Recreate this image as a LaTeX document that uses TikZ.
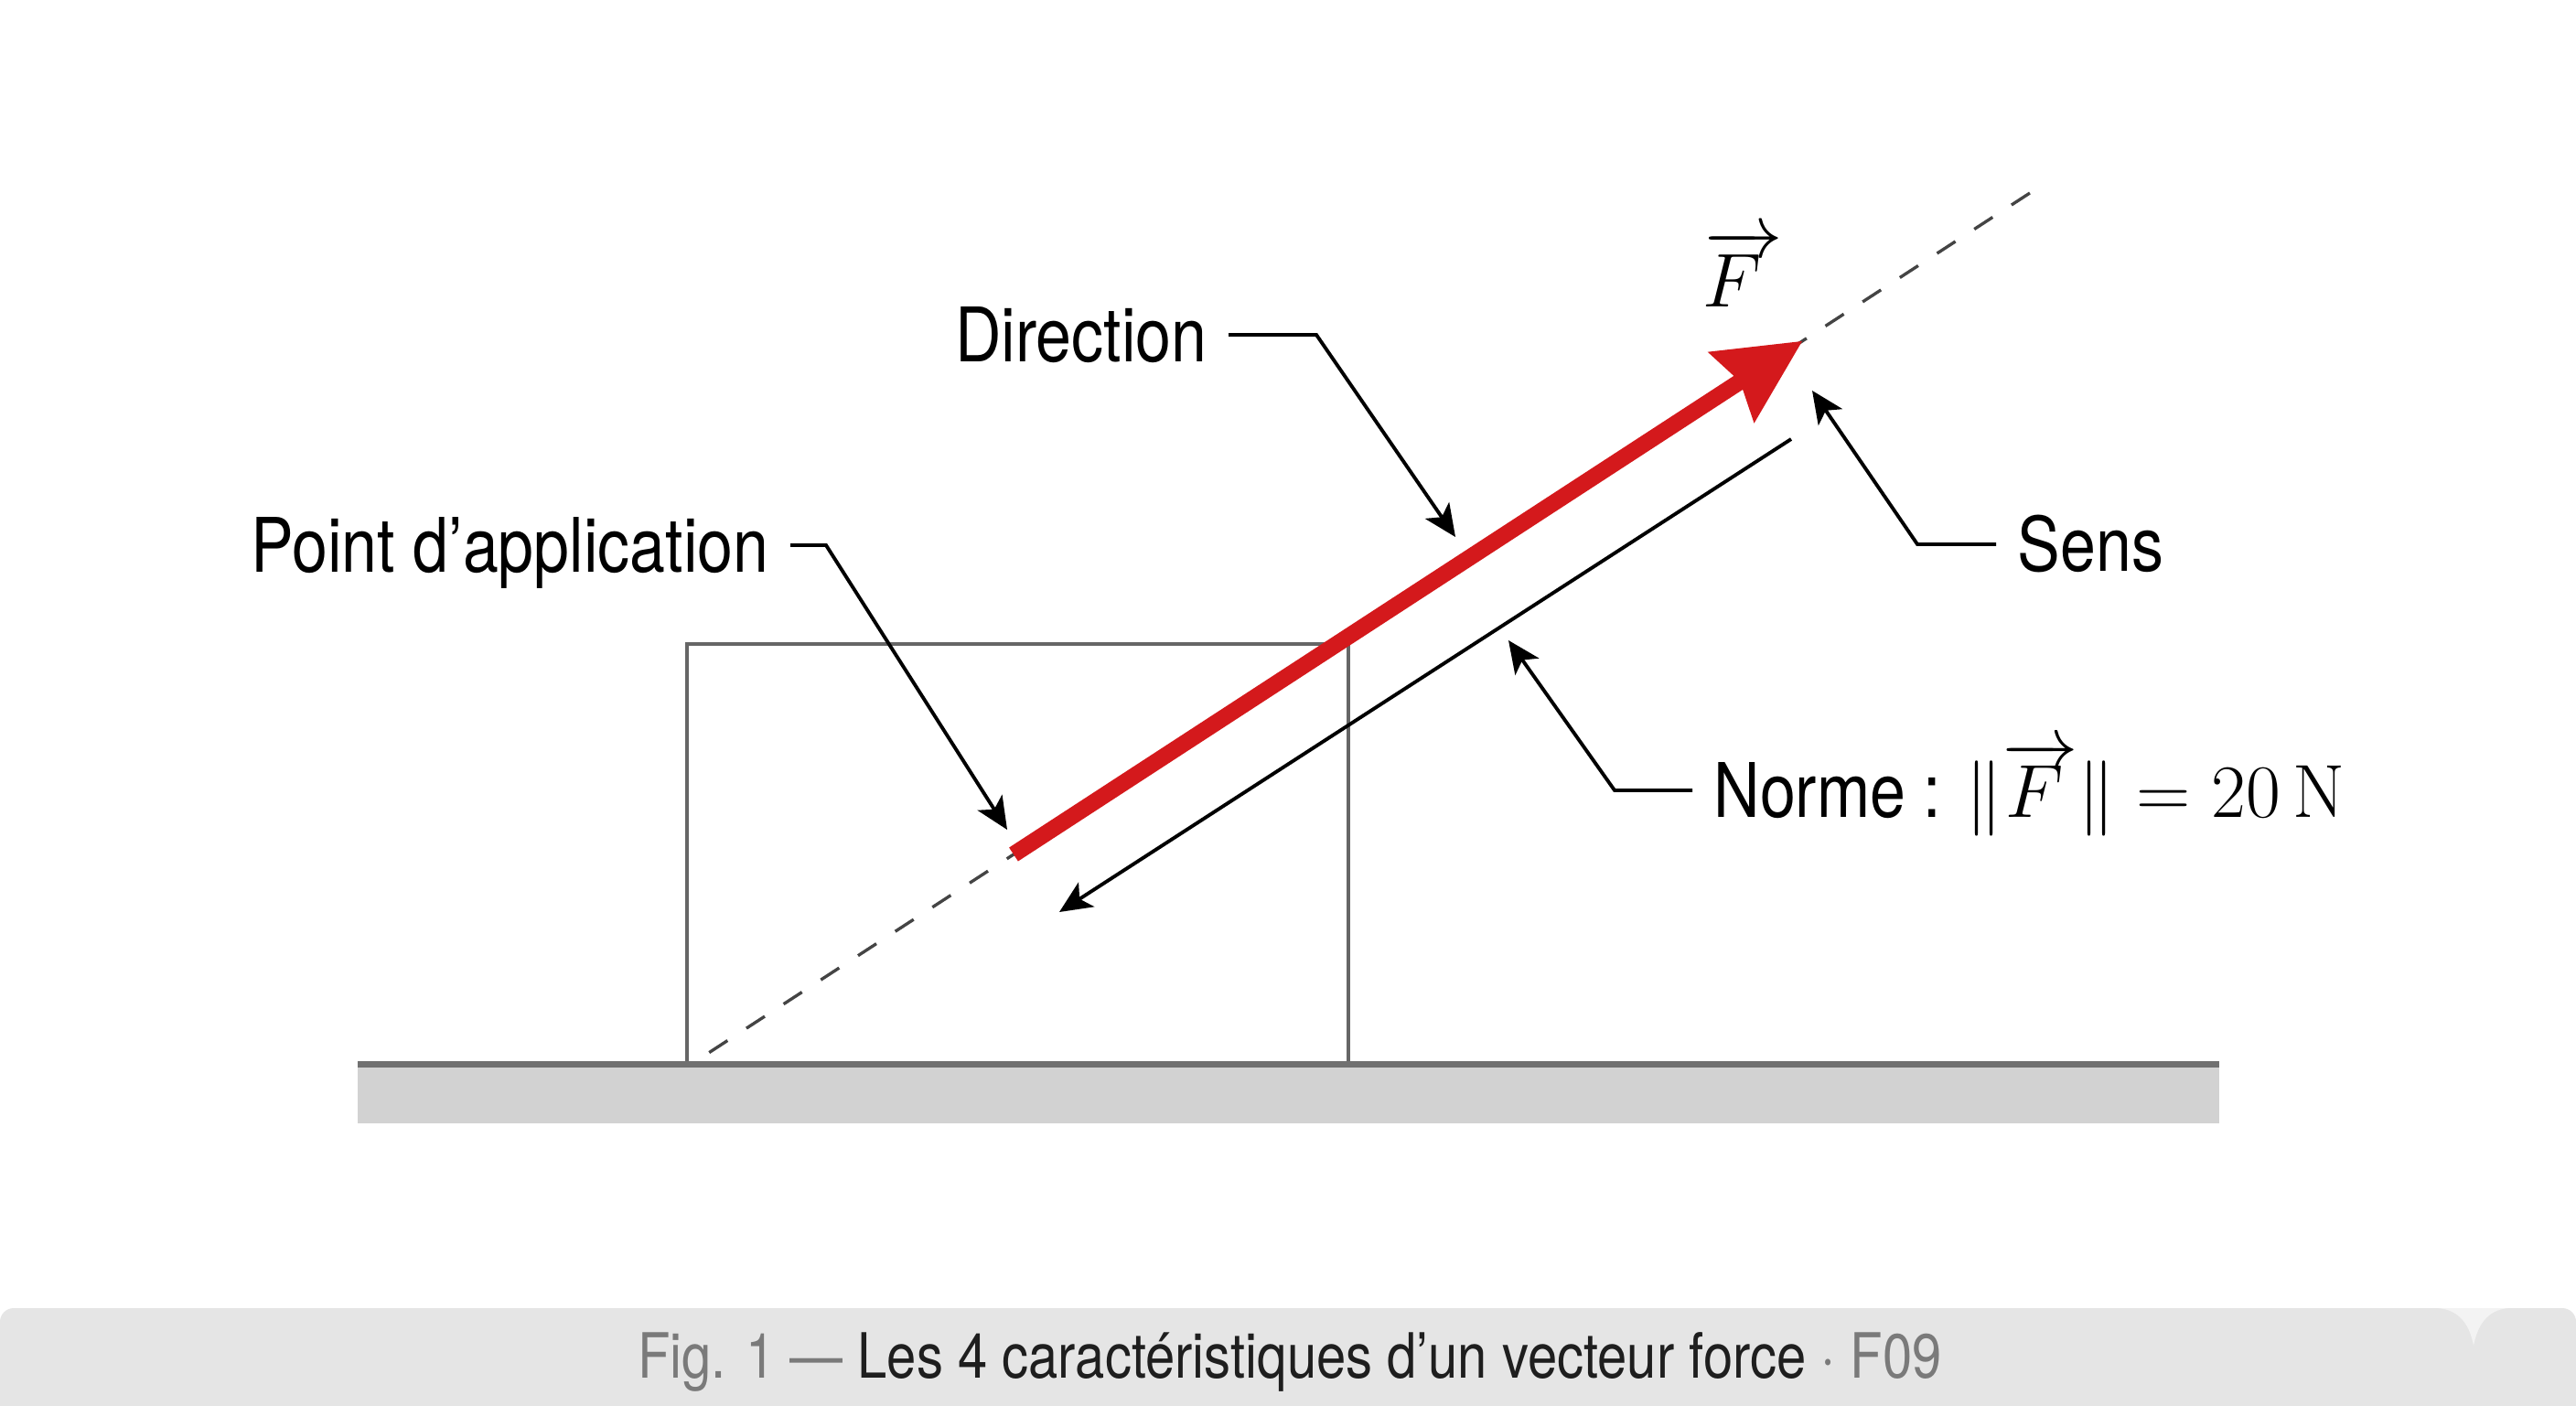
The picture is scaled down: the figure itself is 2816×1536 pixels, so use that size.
\RequirePackage{fix-cm}
\documentclass[tikz,border=0pt]{standalone}
\usepackage[no-math]{fontspec}
\setmainfont[FakeStretch=0.85]{TeX Gyre Heros}
\usetikzlibrary{arrows.meta,calc}
\definecolor{redF}{HTML}{D4191C}
\definecolor{boxgray}{HTML}{666666}
\definecolor{groundline}{HTML}{707070}
\definecolor{groundfill}{HTML}{D2D2D2}
\definecolor{dashgray}{HTML}{444444}
\definecolor{capbg}{HTML}{E5E5E5}
\definecolor{notchc}{HTML}{F3F3F3}
\definecolor{capgray}{HTML}{7A7A7A}
\definecolor{captext}{HTML}{1E1E1E}
\begin{document}
\begin{tikzpicture}[x=0.01cm,y=-0.01cm,
  lbl/.style={font=\fontsize{23.4}{28}\selectfont, inner xsep=6.5pt, inner ysep=0pt, text height=16.8pt, text depth=0pt},
  leader/.style={line width=1.1pt, -{Stealth[length=10pt,width=9pt,inset=2.5pt]}},
  boxline/.style={draw=boxgray, line width=1.4pt},
  dashline/.style={draw=dashgray, line width=0.95pt, dash pattern=on 6.8pt off 7pt},
]
\fill[white] (0,0) rectangle (2816,1536);
\useasboundingbox (0,0) rectangle (2816,1536);

% block and ground
\draw[boxline] (751,1162) -- (751,704) -- (1474,704) -- (1474,1162);
\fill[groundfill] (391,1163) rectangle (2426,1228);
\draw[groundline, line width=2pt] (391,1163) -- (2426,1163);

% line of action
\coordinate (A) at (1108,934);
\coordinate (B) at (1970,373);
\coordinate (dA) at ($(A)!-0.386!(B)$);
\coordinate (dB) at ($(A)!1.31!(B)$);
\draw[dashline] (dA) -- (dB);

% red force vector
\fill[redF] (1103.1,926.5) -- (1895.3,410.9) -- (1866.7,384.7) -- (B)
  -- (1917.5,462.7) -- (1905.1,425.9) -- (1112.9,941.5) -- cycle;

% F label
\node[font=\fontsize{23.7}{28}\selectfont, anchor=base, inner sep=0pt] (Flab) at (1905,335) {$\overrightarrow{F\mkern5mu}$};

% norm arrow
\coordinate (n1) at (1958,480);
\coordinate (n2) at (1158,997);
\draw[leader] (n1) -- (n2);

% labels and leaders
\node[lbl, anchor=east] (dir) at (1343,366) {Direction};
\coordinate (dirK) at (1439,366);
\coordinate (dirT) at (1591,587);
\draw[leader] (dir.east) -- (dirK) -- (dirT);

\node[lbl, anchor=east] (pa) at (864,596) {Point d’application};
\coordinate (paK) at (903,596);
\coordinate (paT) at (1101,907);
\draw[leader] (pa.east) -- (paK) -- (paT);

\node[lbl, anchor=west] (sens) at (2182,595) {Sens};
\coordinate (sensK) at (2096,595);
\coordinate (sensT) at (1981,427);
\draw[leader] (sens.west) -- (sensK) -- (sensT);

\node[lbl, anchor=west] (norme) at (1850,864) {Norme : $\|\overrightarrow{F\mkern3mu}\| = 20\,\mathrm{N}$};
\coordinate (normeK) at (1765,864);
\coordinate (normeT) at (1649,700);
\draw[leader] (norme.west) -- (normeK) -- (normeT);

% caption bar
\fill[capbg, rounded corners=0.15cm] (0,1570) -- (0,1430) -- (2816,1430) -- (2816,1570) -- cycle;
\fill[notchc] (2665,1430) .. controls (2690,1432) and (2700,1450) .. (2704,1471)
  .. controls (2708,1450) and (2718,1432) .. (2742,1430) -- cycle;
\node[font=\fontsize{19.4}{23}\selectfont, anchor=base, inner sep=0pt, text=captext] (cap) at (1410,1506)
  {\textcolor{capgray}{Fig. 1 — }Les 4 caractéristiques d’un vecteur force \textcolor{capgray}{· F09}};
\end{tikzpicture}
\end{document}
